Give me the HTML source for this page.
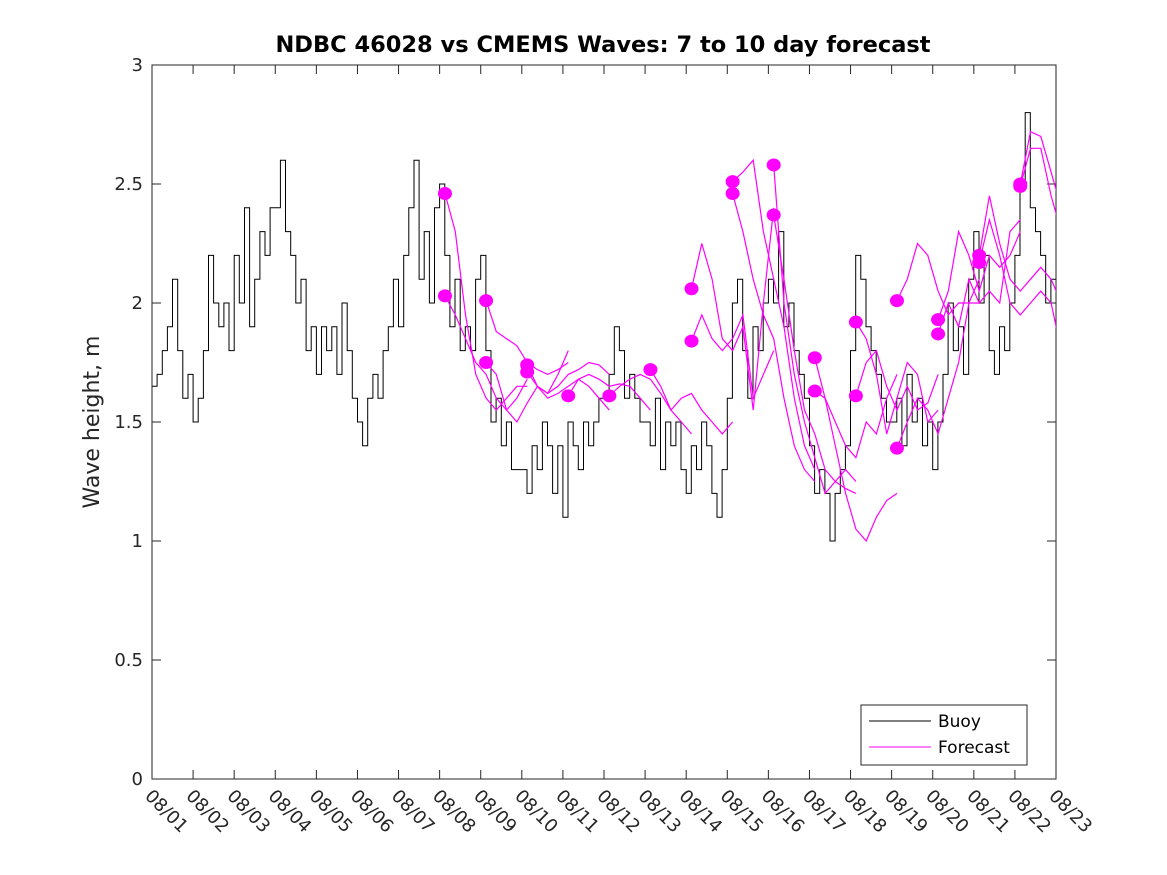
<!DOCTYPE html>
<html><head><meta charset="utf-8"><style>
html,body{margin:0;padding:0;background:#fff;}
svg{display:block;font-family:"DejaVu Sans","Liberation Sans",sans-serif;}
</style></head><body>
<svg id="chart" width="1167" height="875" viewBox="0 0 1167 875">
<rect width="1167" height="875" fill="#fff"/>
<text x="603" y="52" text-anchor="middle" font-size="22.5" font-weight="bold" fill="#000">NDBC 46028 vs CMEMS Waves: 7 to 10 day forecast</text>
<text transform="translate(99,422) rotate(-90)" text-anchor="middle" font-size="22" fill="#262626">Wave height, m</text>
<g id="axes"></g>
<g id="series"></g>
<g>
<rect x="861" y="705" width="166" height="60" fill="#fff" stroke="#262626" stroke-width="1"/>
<line x1="869" y1="721" x2="931" y2="721" stroke="#000" stroke-width="1"/>
<text x="938" y="727" font-size="17" fill="#000">Buoy</text>
<line x1="869" y1="747" x2="931" y2="747" stroke="#ff00ff" stroke-width="1"/>
<text x="938" y="753" font-size="17" fill="#000">Forecast</text>
</g>
</svg>
<script>
const dayLabels=["08/01","08/02","08/03","08/04","08/05","08/06","08/07","08/08","08/09","08/10","08/11","08/12","08/13","08/14","08/15","08/16","08/17","08/18","08/19","08/20","08/21","08/22","08/23"];
const yTicks=[0,0.5,1,1.5,2,2.5,3];
const buoyPerDay=8;
const buoy=[
1.65,1.7,1.8,1.9,2.1,1.8,1.6,1.7,
1.5,1.6,1.8,2.2,2.0,1.9,2.0,1.8,
2.2,2.0,2.4,1.9,2.1,2.3,2.2,2.4,
2.4,2.6,2.3,2.2,2.0,2.1,1.8,1.9,
1.7,1.9,1.8,1.9,1.7,2.0,1.8,1.6,
1.5,1.4,1.6,1.7,1.6,1.8,1.9,2.1,
1.9,2.2,2.4,2.6,2.1,2.3,2.0,2.4,
2.5,2.2,1.9,2.1,1.8,1.9,1.8,2.1,
2.2,1.8,1.5,1.6,1.4,1.5,1.3,1.3,
1.3,1.2,1.4,1.3,1.5,1.4,1.2,1.4,
1.1,1.5,1.4,1.3,1.5,1.4,1.5,1.6,
1.6,1.7,1.9,1.8,1.6,1.7,1.6,1.5,
1.5,1.4,1.6,1.3,1.5,1.4,1.5,1.3,
1.2,1.4,1.3,1.5,1.4,1.2,1.1,1.3,
1.6,2.0,2.1,1.8,1.6,1.9,1.8,2.0,
2.1,2.0,2.3,1.9,2.0,1.8,1.7,1.6,
1.4,1.2,1.3,1.2,1.0,1.2,1.3,1.4,
1.8,2.2,2.1,1.9,1.8,1.7,1.6,1.5,
1.5,1.6,1.4,1.7,1.5,1.6,1.4,1.5,
1.3,1.5,1.7,2.0,1.8,1.9,1.7,2.1,
2.3,2.0,2.2,1.8,1.7,1.9,1.8,2.0,
2.2,2.5,2.8,2.4,2.3,2.2,2.0,2.1];
const fcStart=[7.13,7.13,8.13,8.13,9.13,9.13,10.13,11.13,12.13,13.13,13.13,14.13,14.13,15.13,15.13,16.13,16.13,17.13,17.13,18.13,18.13,19.13,19.13,20.13,20.13,21.13,21.13];
const fcStep=0.25;
const fcValues=[
[2.46,2.3,1.95,1.7,1.6,1.55,1.6,1.65,1.65],
[2.03,1.95,1.85,1.75,1.7,1.6,1.55,1.6,1.68],
[2.01,1.88,1.85,1.82,1.75,1.72,1.70,1.72,1.75],
[1.75,1.7,1.55,1.5,1.58,1.65,1.62,1.7,1.8],
[1.74,1.65,1.62,1.65,1.7,1.72,1.75,1.74,1.7],
[1.71,1.65,1.6,1.62,1.65,1.68,1.65,1.6,1.55],
[1.61,1.68,1.7,1.68,1.65,1.66,1.65,1.6,1.55],
[1.61,1.65,1.68,1.7,1.68,1.62,1.55,1.5,1.45],
[1.72,1.65,1.55,1.6,1.62,1.55,1.5,1.45,1.5],
[2.06,2.25,2.1,1.85,1.8,1.9,1.55,2.0,2.4],
[1.84,1.95,1.85,1.8,1.85,1.95,1.6,1.7,1.8],
[2.51,2.55,2.6,2.3,2.1,1.9,1.6,1.4,1.3],
[2.46,2.3,2.1,1.95,1.85,1.6,1.4,1.3,1.25],
[2.58,2.0,1.7,1.5,1.35,1.2,1.25,1.3,1.25],
[2.37,2.1,1.8,1.55,1.45,1.3,1.25,1.22,1.2],
[1.77,1.6,1.4,1.2,1.05,1.0,1.1,1.17,1.2],
[1.63,1.6,1.5,1.4,1.35,1.5,1.45,1.6,1.7],
[1.92,1.85,1.7,1.45,1.6,1.75,1.7,1.5,1.55],
[1.61,1.75,1.8,1.65,1.55,1.65,1.55,1.58,1.7],
[2.01,2.1,2.25,2.2,2.05,1.95,2.0,2.0,2.0],
[1.39,1.5,1.6,1.55,1.45,1.6,1.75,2.0,2.1],
[1.93,2.05,2.3,2.2,2.05,2.2,2.15,2.2,2.3],
[1.87,2.0,1.9,2.1,2.0,2.05,2.0,2.3,2.35],
[2.20,2.45,2.25,2.1,2.05,2.1,2.15,2.1,2.0],
[2.17,2.35,2.2,2.0,1.95,2.0,2.05,2.0,1.8],
[2.50,2.72,2.7,2.55,2.4,2.3,2.3,2.2,2.15],
[2.49,2.65,2.65,2.45,2.3,2.2,2.15,2.25,2.35]];

const L=152,R=1056,T=65,B=779,NS="http://www.w3.org/2000/svg";
const xS=d=>L+(R-L)*d/22;
const yS=v=>B-(B-T)*v/3;
function mk(tag,attrs,parent){const e=document.createElementNS(NS,tag);for(const k in attrs)e.setAttribute(k,attrs[k]);parent.appendChild(e);return e;}
const axes=document.getElementById('axes'),series=document.getElementById('series');

const frame=mk('rect',{x:L,y:T,width:R-L,height:B-T,fill:'none',stroke:'#262626','stroke-width':1},axes);


yTicks.forEach(v=>{
  const y=yS(v);
  const t1=mk('line',{x1:L,y1:y,x2:L+9,y2:y,stroke:'#262626'},axes);
  
  
  const t2=mk('line',{x1:R,y1:y,x2:R-9,y2:y,stroke:'#262626'},axes);
  
  
  const tx=mk('text',{x:L-9,y:y+6,'text-anchor':'end','font-size':18,fill:'#262626'},axes);
  tx.textContent=String(v);
  
  
});
dayLabels.forEach((lab,i)=>{
  const x=xS(i);
  const t1=mk('line',{x1:x,y1:B,x2:x,y2:B-9,stroke:'#262626'},axes);
  
  
  const t2=mk('line',{x1:x,y1:T,x2:x,y2:T+9,stroke:'#262626'},axes);
  
  
  const tx=mk('text',{transform:`translate(${x-8},${B+18}) rotate(45)`,'font-size':18,fill:'#262626'},axes);
  tx.textContent=lab;
  
  
});

let bd='';
buoy.forEach((v,i)=>{
  const x=xS(i/buoyPerDay).toFixed(1),y=yS(v).toFixed(1);
  if(i===0) bd+=`M${x},${y}`; else bd+=`H${x}V${y}`;
});
bd+=`H${xS(buoy.length/buoyPerDay).toFixed(1)}`;
const bl=mk('path',{d:bd,fill:'none',stroke:'#000','stroke-width':1},series);



mk('clipPath',{id:'clip'},series);
mk('rect',{x:L,y:T,width:R-L,height:B-T},document.getElementById('clip'));
fcValues.forEach((vals,k)=>{
  const s=fcStart[k];
  const pts=vals.map((v,i)=>`${xS(s+i*fcStep).toFixed(1)},${yS(v).toFixed(1)}`).join(' ');
  const pl=mk('polyline',{points:pts,fill:'none',stroke:'#ff00ff','stroke-width':1.2,'clip-path':'url(#clip)'},series);
  
  
});
fcValues.forEach((vals,k)=>{
  const c=mk('ellipse',{cx:xS(fcStart[k]),cy:yS(vals[0]),rx:7,ry:6.5,fill:'#ff00ff'},series);
  
  
});
</script>
</body></html>
